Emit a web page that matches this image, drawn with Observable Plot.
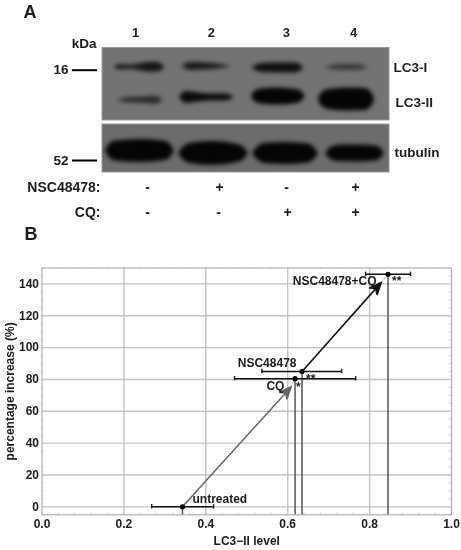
<!DOCTYPE html>
<html><head><meta charset="utf-8">
<script src="https://cdn.jsdelivr.net/npm/d3@7"></script>
<script src="https://cdn.jsdelivr.net/npm/@observablehq/plot@0.6"></script>
<style>html,body{margin:0;padding:0;background:#fff}svg{display:block}</style>
</head><body><div id="a"></div><div id="b"></div>
<script>
// ---- Panel A: western blot
const laneNumbers = ["1","2","3","4"];
const lanePositions = [1, 2.013, 3.013, 3.907];
const nscSigns = ["-","+","-","+"];
const nscPositions = [1.16, 2.12, 3.013, 3.933];
const cqSigns = ["-","-","+","+"];
const cqPositions = [1.16, 2.107, 3.027, 3.933];

// band density profiles: [lane coordinate, half thickness]
const lc3iLane1 = [[.72,0],[.76,2],[.8,2.5],[.933,2],[1.067,3.5],[1.2,5],[1.307,4.5],[1.387,.5]];
const lc3iLane2 = [[1.62,0],[1.733,4],[1.933,3.5],[2.133,2],[2.267,.3]];
const lc3iLane3 = [[2.55,0],[2.62,3],[2.693,4.5],[2.933,5],[3.133,5],[3.2,3],[3.25,0]];
const lc3iLane4 = [[3.525,0],[3.667,2.5],[3.867,3],[4,2.5],[4.1,0]];
const lc3iiLane1 = [[.75,0],[.893,2.5],[1.067,3],[1.267,4],[1.37,0]];
const lc3iiLane2 = [[1.585,0],[1.62,3.5],[1.68,6],[1.8,5],[2,3.5],[2.2,3.5],[2.32,0]];
const lc3iiLane3 = [[2.545,0],[2.59,5],[2.667,7.5],[2.907,8.5],[3.147,7],[3.22,4.5],[3.265,0]];
const lc3iiLane4 = [[3.44,0],[3.475,6],[3.573,10],[3.8,11.5],[4.067,11],[4.15,6.5],[4.19,0]];
const tubulinLane1 = [[.6,0],[.645,6],[.733,10],[1.067,11.5],[1.4,9.5],[1.47,6],[1.52,0]];
const tubulinLane2 = [[1.575,0],[1.62,5],[1.733,10],[2.027,12],[2.36,9],[2.46,5],[2.505,0]];
const tubulinLane3 = [[2.56,0],[2.61,5],[2.72,10],[3,11],[3.307,9.5],[3.39,5.5],[3.44,0]];
const tubulinLane4 = [[3.535,0],[3.58,4.5],[3.68,8],[3.933,8.5],[4.2,7.5],[4.28,4.5],[4.32,0]];

const bandProfiles = [lc3iLane1,lc3iLane2,lc3iLane3,lc3iLane4,lc3iiLane1,lc3iiLane2,lc3iiLane3,lc3iiLane4,tubulinLane1,tubulinLane2,tubulinLane3,tubulinLane4];
const bandRows = [66.7,66,67.5,67,99.7,97,96,99,150.5,153,153,153];
const bandDensity = [.85,.8,.9,.55,.65,.95,1,1,1,1,1,1];

// ---- Panel B: scatter values
const conditions = ["untreated","CQ","NSC48478","NSC48478+CQ"];
const lc3Level = [.343,.618,.635,.845];
const increase = [0,80.5,85,146];
const errLow = [.268,.47,.537,.79];
const errHigh = [.419,.766,.732,.9];
const arrowTipX = [.607,.827];
const arrowTipY = [75,140.5];

const font = "'Liberation Sans', Arial, sans-serif";
const ink = "#1c1c1c";

const bandMarks = bandProfiles.map((p,i)=>Plot.area(p,{
  x1:d=>d[0], y1:d=>bandRows[i]-d[1], y2:d=>bandRows[i]+d[1],
  fill:"#050505", fillOpacity:bandDensity[i], curve:"monotone-x", imageFilter:"blur(2px)"
}));

const txt = (s,x,y,o={}) => Plot.text([s],{x:()=>x,y:()=>y,text:d=>d,fill:ink,fontWeight:"bold",fontSize:13.5,...o});

const blot = Plot.plot({
  width:461,height:225,margin:0,
  x:{domain:[1-135/75,1+326/75],range:[0,461],axis:null},
  y:{domain:[0,225],range:[0,225],axis:null},
  style:{fontFamily:font,background:"transparent",filter:"blur(0.45px)"},
  marks:[
    Plot.rect([0],{x1:()=>.56,x2:()=>4.387,y1:()=>47.5,y2:()=>120,fill:"#737373",stroke:"#9a9a9a"}),
    Plot.rect([0],{x1:()=>.56,x2:()=>4.387,y1:()=>124,y2:()=>172,fill:"#6c6c6c",stroke:"#9a9a9a"}),
    ...bandMarks,
    Plot.ruleY([69.7],{x1:()=>.16,x2:()=>.493,stroke:"#000",strokeWidth:2}),
    Plot.ruleY([160],{x1:()=>.16,x2:()=>.493,stroke:"#000",strokeWidth:2}),
    txt("A",-.493,11.5,{fontSize:18,textAnchor:"start"}),
    Plot.text(laneNumbers,{x:(d,i)=>lanePositions[i],y:()=>32,text:d=>d,fill:ink,fontWeight:"bold",fontSize:13}),
    txt("kDa",.48,42.7,{textAnchor:"end"}),
    txt("16",.107,69,{textAnchor:"end"}),
    txt("52",.107,160,{textAnchor:"end"}),
    txt("LC3-I",4.44,67,{textAnchor:"start"}),
    txt("LC3-II",4.467,102,{textAnchor:"start"}),
    txt("tubulin",4.453,152,{textAnchor:"start"}),
    txt("NSC48478:",.533,187,{textAnchor:"end",fontSize:14}),
    txt("CQ:",.533,212,{textAnchor:"end",fontSize:14}),
    Plot.text(nscSigns,{x:(d,i)=>nscPositions[i],y:()=>187,text:d=>d,fill:ink,fontWeight:"bold",fontSize:14}),
    Plot.text(cqSigns,{x:(d,i)=>cqPositions[i],y:()=>212,text:d=>d,fill:ink,fontWeight:"bold",fontSize:14})
  ]
});
document.getElementById("a").append(blot);

const stealth = color => {
  const m = d3.create("svg:marker")
    .attr("viewBox","-12 -6 14 12").attr("markerWidth",14).attr("markerHeight",12)
    .attr("markerUnits","userSpaceOnUse").attr("orient","auto").attr("fill",color);
  m.append("path").attr("d","M1,0 L-11,-5 L-7.5,0 L-11,5 Z");
  return m.node();
};
const arrowMark = (from,tipI,color,w) => Plot.line([[lc3Level[from],increase[from]],[arrowTipX[tipI],arrowTipY[tipI]]],
  {x:d=>d[0],y:d=>d[1],stroke:color,strokeWidth:w,markerEnd:stealth});
const leader = (tipI,to) => Plot.line([[arrowTipX[tipI],arrowTipY[tipI]],[lc3Level[to],increase[to]]],
  {x:d=>d[0],y:d=>d[1],stroke:"#aaa",strokeWidth:1,strokeDasharray:"3,2"});
const minorX = d3.range(0,1.001,.04);
const minorY = d3.range(-5,150.1,5);

const chart = Plot.plot({
  width:461,height:325,marginLeft:41.5,marginRight:10,marginTop:42.5,marginBottom:35.7,
  x:{domain:[0,1],label:null},
  y:{domain:[-5,150],label:null},
  style:{fontFamily:font,fontWeight:"bold",fontSize:"12px",color:ink,background:"transparent",overflow:"visible",filter:"blur(0.45px)"},
  marks:[
    Plot.ruleX([.2,.4,.6,.8],{stroke:"#c4c4c4",strokeWidth:1.4}),
    Plot.ruleY(d3.range(0,141,20),{stroke:"#c4c4c4",strokeWidth:1.4}),
    Plot.ruleX(minorX,{y1:()=>-5,y2:()=>-4,stroke:"#cfcfcf"}),
    Plot.ruleX(minorX,{y1:()=>150,y2:()=>149,stroke:"#cfcfcf"}),
    Plot.ruleY(minorY,{x1:()=>0,x2:()=>.005,stroke:"#cfcfcf"}),
    Plot.ruleY(minorY,{x1:()=>.995,x2:()=>1,stroke:"#cfcfcf"}),
    Plot.frame({stroke:"#b0b0b0",strokeWidth:1.2}),
    Plot.axisX({ticks:[0,.2,.4,.6,.8,1],tickFormat:d3.format(".1f"),tickSize:0,tickPadding:5,fontSize:12,
      label:"LC3\u2212II level",labelAnchor:"center",labelArrow:"none",labelOffset:30}),
    Plot.axisY({ticks:d3.range(0,141,20),tickSize:0,tickPadding:3,fontSize:12,
      label:"percentage increase (%)",labelAnchor:"center",labelArrow:"none",labelOffset:37}),
    // drop lines
    Plot.ruleX(conditions,{x:(d,i)=>lc3Level[i],y1:()=>-5,y2:(d,i)=>increase[i],stroke:"#555",strokeWidth:1.5}),
    // arrows
    leader(0,1), leader(1,3),
    arrowMark(0,0,"#666",1.5),
    arrowMark(2,1,"#111",1.6),
    // error bars
    Plot.ruleY(conditions,{y:(d,i)=>increase[i],x1:(d,i)=>errLow[i],x2:(d,i)=>errHigh[i],stroke:"#111",strokeWidth:1.5}),
    Plot.ruleX(conditions,{x:(d,i)=>errLow[i],y1:(d,i)=>increase[i]-1.4,y2:(d,i)=>increase[i]+1.4,stroke:"#111",strokeWidth:1.3}),
    Plot.ruleX(conditions,{x:(d,i)=>errHigh[i],y1:(d,i)=>increase[i]-1.4,y2:(d,i)=>increase[i]+1.4,stroke:"#111",strokeWidth:1.3}),
    Plot.dot(conditions,{x:(d,i)=>lc3Level[i],y:(d,i)=>increase[i],r:2.6,fill:"#000"}),
    // labels
    Plot.text(["untreated"],{x:()=>.3675,y:()=>4.6,text:d=>d,textAnchor:"start",fill:ink,fontSize:12}),
    Plot.text(["CQ"],{x:()=>.592,y:()=>75.5,text:d=>d,textAnchor:"end",fill:ink,fontSize:12}),
    Plot.text(["NSC48478"],{x:()=>.6215,y:()=>90,text:d=>d,textAnchor:"end",fill:ink,fontSize:12}),
    Plot.text(["NSC48478+CQ"],{x:()=>.817,y:()=>142,text:d=>d,textAnchor:"end",fill:ink,fontSize:12}),
    Plot.text(["**"],{x:()=>.656,y:()=>80.5,text:d=>d,fill:ink,fontSize:12}),
    Plot.text(["*"],{x:()=>.626,y:()=>75,text:d=>d,fill:ink,fontSize:12}),
    Plot.text(["**"],{x:()=>.866,y:()=>141.5,text:d=>d,fill:ink,fontSize:12}),
    Plot.text(["B"],{x:()=>-.043,y:()=>171,text:d=>d,textAnchor:"start",fill:ink,fontSize:18})
  ]
});
document.getElementById("b").append(chart);
</script></body></html>
